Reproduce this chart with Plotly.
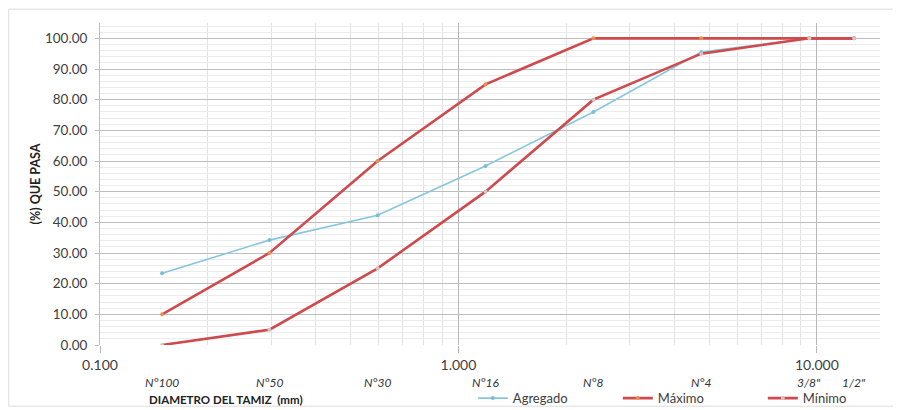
import math
import plotly.graph_objects as go

# Data
sieve_names = ["N°100", "N°50", "N°30", "N°16", "N°8", "N°4", "3/8\"", "1/2\""]
sieve_mm = [0.149, 0.297, 0.595, 1.19, 2.38, 4.76, 9.525, 12.7]
agregado = [23.4, 34.2, 42.3, 58.4, 76.0, 95.5, 100.0, 100.0]
maximo = [10.0, 30.0, 60.0, 85.0, 100.0, 100.0, 100.0, 100.0]
minimo = [0.0, 5.0, 25.0, 50.0, 80.0, 95.0, 100.0, 100.0]
x_tick_vals = [0.1, 1.0, 10.0]
x_tick_text = ["0.100", "1.000", "10.000"]
y_tick_vals = [0, 10, 20, 30, 40, 50, 60, 70, 80, 90, 100]

FONT = "Lato, Carlito, Calibri, sans-serif"
RED = "#cf4a4c"

fig = go.Figure()
fig.add_trace(go.Scatter(
    x=sieve_mm, y=agregado, name="Agregado", mode="lines+markers",
    line=dict(color="#86c7df", width=1.6),
    marker=dict(size=4, color="#7bbcd6")))
fig.add_trace(go.Scatter(
    x=sieve_mm, y=maximo, name="Máximo", mode="lines+markers",
    line=dict(color=RED, width=2.6),
    marker=dict(size=4, color="#e8904f")))
fig.add_trace(go.Scatter(
    x=sieve_mm, y=minimo, name="Mínimo", mode="lines+markers",
    line=dict(color=RED, width=2.6),
    marker=dict(size=4, color="#d8c0c4")))

annotations = []
for name, mm in zip(sieve_names, sieve_mm):
    annotations.append(dict(
        x=math.log10(mm), xref="x", y=-0.115, yref="paper",
        text="<i>" + name + "</i>", showarrow=False,
        font=dict(family=FONT, size=12, color="#333333"),
        xanchor="center", yanchor="middle"))
annotations.append(dict(
    x=(147 - 100) / 780, xref="paper", y=-0.168, yref="paper",
    text="<b>DIAMETRO DEL TAMIZ  (mm)</b>", showarrow=False,
    font=dict(family=FONT, size=11.5, color="#222222"),
    xanchor="left", yanchor="middle"))

# faint chart border
shapes = [dict(type="rect", xref="paper", yref="paper",
               x0=-0.117, x1=1.04, y0=-0.19, y1=1.043,
               line=dict(color="#dcdcdc", width=1), fillcolor="rgba(0,0,0,0)", layer="below")]

# page body has an 8px default margin, so the figure is 8px smaller
fig.update_layout(
    width=893, height=402,
    margin=dict(l=92, r=21, t=15, b=65, autoexpand=False),
    paper_bgcolor="white", plot_bgcolor="white",
    font=dict(family=FONT, size=13, color="#404040"),
    showlegend=True,
    legend=dict(orientation="h", x=0.478, xanchor="left", y=-0.165, yanchor="middle",
                font=dict(family=FONT, size=13, color="#404040"),
                entrywidth=100, bgcolor="rgba(0,0,0,0)", tracegroupgap=0),
    annotations=annotations,
    shapes=shapes,
)
fig.update_xaxes(
    type="log", range=[-1, 1.176], automargin=False,
    tickvals=x_tick_vals, ticktext=x_tick_text,
    tickfont=dict(family=FONT, size=14, color="#404040"),
    showgrid=True, gridcolor="#b8b8b8", gridwidth=1,
    ticks="outside", ticklen=7, tickcolor="#b8b8b8",
    minor=dict(dtick="D1", showgrid=True, gridcolor="#e2e2e2", gridwidth=1, ticks=""),
    zeroline=False, showline=False,
)
fig.update_yaxes(
    range=[0, 105], tickvals=y_tick_vals, tickformat=".2f", automargin=False,
    tickfont=dict(family=FONT, size=13.5, color="#404040"),
    showgrid=True, gridcolor="#bdbdbd", gridwidth=1,
    minor=dict(dtick=2, showgrid=True, gridcolor="#ececec", gridwidth=1),
    ticks="outside", ticklen=4, tickcolor="#bdbdbd", ticklabelstandoff=5,
    showline=True, linecolor="#bdbdbd", linewidth=1,
    zeroline=False,
    title=dict(text="<b>(%) QUE PASA</b>", font=dict(family=FONT, size=12.5, color="#222222"), standoff=1),
)

fig.write_html("out.html")
